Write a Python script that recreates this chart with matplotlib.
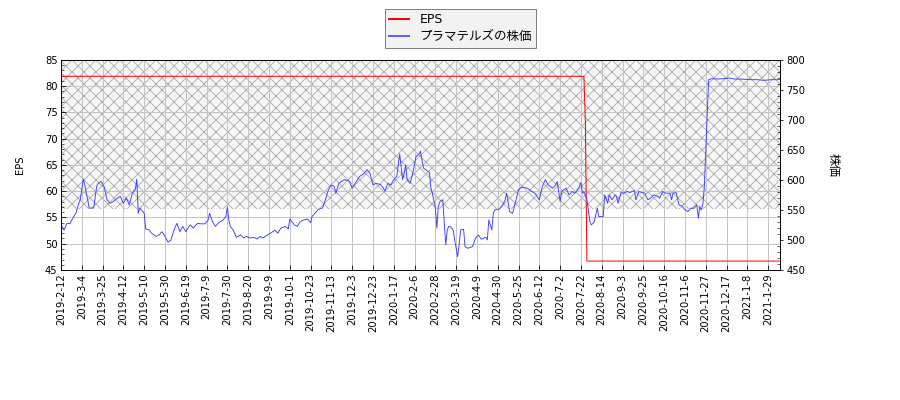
import matplotlib
matplotlib.use("Agg")
import matplotlib.pyplot as plt
from matplotlib.ticker import MultipleLocator
from matplotlib.lines import Line2D
import numpy as np

plt.rcParams['font.family'] = ['DejaVu Sans', 'Noto Sans CJK JP']
plt.rcParams['font.size'] = 10
plt.rcParams['hatch.linewidth'] = 0.8

# x tick labels (every 14 trading days)
date_labels = ["2019-2-12", "2019-3-4", "2019-3-25", "2019-4-12", "2019-5-10", "2019-5-30",
               "2019-6-19", "2019-7-9", "2019-7-30", "2019-8-20", "2019-9-9", "2019-10-1",
               "2019-10-23", "2019-11-13", "2019-12-3", "2019-12-23", "2020-1-17", "2020-2-6",
               "2020-2-28", "2020-3-19", "2020-4-9", "2020-4-30", "2020-5-25", "2020-6-12",
               "2020-7-2", "2020-7-22", "2020-8-14", "2020-9-3", "2020-9-25", "2020-10-16",
               "2020-11-6", "2020-11-27", "2020-12-17", "2021-1-8", "2021-1-29"]
n_days = 485
tick_step = 14

# EPS (trading-day index, value)
eps_idx = [0, 352, 353, 354, 484]
eps_val = [81.9, 81.9, 73.2, 46.7, 46.7]

# stock price (trading-day index, yen)
price_idx = [0, 2, 4, 6, 8, 10, 12, 13, 15, 16, 19, 22, 24, 25, 27, 29, 31, 33, 35, 38,
             40, 42, 44, 46, 48, 50, 51, 52, 53, 56, 57, 59, 61, 64, 66, 68, 70, 72, 74, 76,
             78, 80, 82, 84, 87, 89, 92, 94, 97, 99, 100, 102, 104, 106, 109, 111, 112, 113, 114, 116,
             118, 121, 123, 125, 127, 130, 132, 134, 136, 139, 141, 144, 146, 148, 151, 153, 154, 157, 159, 161,
             163, 166, 168, 169, 171, 173, 176, 178, 180, 182, 184, 185, 187, 189, 191, 194, 196, 199, 201, 204,
             206, 208, 210, 212, 215, 217, 218, 220, 222, 224, 226, 228, 230, 231, 232, 233, 235, 237, 239, 241,
             242, 244, 248, 249, 250, 252, 253, 254, 255, 257, 258, 259, 260, 261,
             262, 264, 265, 267, 268, 269, 271, 272, 274, 277, 279, 281, 283, 286, 287, 288, 290, 291, 292, 295,
             297, 299, 300, 302, 304, 306, 308, 310, 314, 316, 319, 322, 324, 326, 328, 331, 333, 334, 336, 337,
             340, 342, 344, 346, 349, 350, 351, 352, 354, 355, 356, 357, 359, 361, 362, 365, 366, 368, 369, 371,
             373, 374, 375, 377, 379, 381, 383, 386, 387, 389, 391, 393, 395, 397, 399, 402, 403, 405, 407, 410,
             411, 412, 414, 415, 416, 418, 420, 422, 424, 426, 428, 429, 430, 431, 432, 433, 434, 435, 436, 438,
             442, 446, 450, 453, 457, 464, 469, 473, 478, 484]
price_val = [525.3, 516.5, 527.9, 527.0, 536.6, 544.5, 561.1, 567.3, 601.4, 591.8, 553.3, 553.3, 589.1, 594.4, 597.9, 589.1, 567.3, 561.1, 563.8, 569.9,
             572.5, 561.1, 569.9, 558.5, 577.8, 583.9, 601.4, 544.5, 553.3, 544.5, 518.3, 517.4, 511.3, 506.0, 508.6, 513.9, 506.0, 496.4, 499.9, 516.5,
             527.9, 513.9, 522.6, 513.9, 525.3, 520.0, 527.9, 527.0, 527.0, 533.1, 544.5, 530.5, 522.6, 528.8, 533.1, 539.3, 555.0, 533.1, 522.6, 516.5,
             504.3, 508.6, 503.4, 506.0, 503.4, 504.3, 501.6, 506.0, 503.4, 508.6, 511.3, 516.5, 511.3, 520.0, 522.6, 518.3, 534.9, 525.3, 522.6, 530.5,
             533.1, 534.9, 528.8, 539.3, 544.5, 550.6, 553.3, 567.3, 583.9, 591.8, 589.1, 577.8, 594.4, 597.9, 600.5, 597.9, 586.5, 597.9, 605.8, 611.0,
             617.1, 611.0, 591.8, 594.4, 592.6, 586.5, 581.3, 594.4, 591.8, 600.5, 605.8, 643.4, 600.5, 611.0, 625.0, 600.5, 594.4, 613.6, 639.0, 643.4,
             647.8, 619.8, 612.8, 586.5, 577.8, 553.3, 520.0, 555.9, 563.8, 567.3, 527.9, 492.0, 516.5, 522.6,
             522.4, 516.8, 500.1, 472.3, 491.8, 516.8, 517.9, 489.0, 486.2, 489.0, 502.9, 508.4, 501.2, 504.6, 500.1, 533.5, 516.8, 544.6, 550.2, 551.3,
             556.9, 566.9, 578.0, 547.4, 544.6, 564.1, 583.6, 588.0, 586.3, 582.5, 578.0, 566.9, 589.1, 600.3, 591.9, 586.3, 591.9, 597.5, 564.1, 580.8,
             586.3, 575.2, 580.8, 578.0, 589.1, 595.8, 578.0, 580.8, 566.9, 550.2, 530.7, 525.1, 530.7, 552.9, 539.0, 539.0, 575.2, 561.3, 575.2, 566.9,
             575.2, 572.4, 561.3, 579.1, 578.0, 580.8, 579.1, 582.5, 566.9, 580.8, 579.1, 578.0, 566.9, 569.7, 575.2, 572.4, 569.7, 580.8, 578.0, 578.0,
             566.9, 578.0, 579.1, 569.7, 558.5, 556.9, 550.2, 547.4, 552.9, 552.9, 558.5, 536.3, 555.8, 550.2, 558.5, 586.3, 644.8, 708.8, 767.2, 768.8,
             768.3, 768.8, 770.0, 768.3, 768.3, 767.2, 767.2, 766.1, 767.2, 767.2]

fig = plt.figure(figsize=(900 / 72, 400 / 72), dpi=72)
ax1 = fig.add_axes([61 / 900, 0.325, 719 / 900, 0.525])
ax2 = ax1.twinx()

# hatched band
ax1.axhspan(56.6, 85, facecolor='#f6f6f6', edgecolor='#a8a8a8', hatch='xx', linewidth=0, zorder=0)

ax1.plot(eps_idx, eps_val, color='red', lw=1.0)
ax2.plot(price_idx, price_val, color='#3b3bff', lw=0.9)

ax1.set_xlim(0, n_days - 1)
ax1.set_ylim(45, 85)
ax2.set_ylim(450, 800)
ax1.set_xticks(np.arange(len(date_labels)) * tick_step)
ax1.set_xticklabels(date_labels, rotation=90)
ax1.yaxis.set_major_locator(MultipleLocator(5))
ax1.yaxis.set_minor_locator(MultipleLocator(1))
ax2.yaxis.set_major_locator(MultipleLocator(50))
ax2.yaxis.set_minor_locator(MultipleLocator(10))

ax1.grid(True, color='#c4c4c4', lw=1)
ax1.tick_params(axis='both', which='both', direction='in')
ax1.tick_params(axis='y', which='major', length=5)
ax1.tick_params(axis='y', which='minor', length=3)
ax1.tick_params(axis='x', which='major', length=5)
ax2.tick_params(axis='y', which='major', direction='out', length=3)
ax2.tick_params(axis='y', which='minor', direction='in', length=3)

ax1.set_ylabel('EPS', labelpad=20)
ax2.set_ylabel('株価', rotation=270, labelpad=34, family='Noto Sans CJK JP', fontsize=12)

handles = [Line2D([], [], color='red', lw=2), Line2D([], [], color='#6060ff', lw=2)]
fig.legend(handles, ['EPS', 'プラマテルズの株価'], loc='upper left',
           bbox_to_anchor=(385 / 900, 1 - 9 / 400), borderaxespad=0, fancybox=False,
           facecolor='#f2f2f2', edgecolor='#808080', framealpha=1, handlelength=1.6,
           labelspacing=0.3, borderpad=0.35,
           prop={'family': ['DejaVu Sans', 'Noto Sans CJK JP'], 'size': 12.5})

fig.savefig('out.png', dpi=72)
